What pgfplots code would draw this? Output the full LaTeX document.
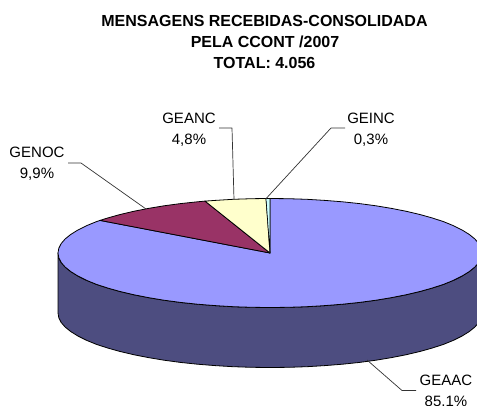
\documentclass[border=0pt]{standalone}
\usepackage{pgfplots}
\pgfplotsset{compat=1.18}
\usepackage{fontspec}
\setmainfont{Liberation Sans}
\definecolor{geaac}{HTML}{9999FF}
\definecolor{geaacside}{HTML}{4D4D80}
\definecolor{genoc}{HTML}{993366}
\definecolor{geanc}{HTML}{FFFFCC}
\definecolor{geinc}{HTML}{CCFFFF}
\definecolor{leader}{HTML}{333333}
\tikzset{
  ttl/.style={anchor=base, font=\fontsize{16}{18}\selectfont\bfseries},
  lbl/.style={anchor=base, font=\fontsize{15}{17}\selectfont},
}
\begin{document}
\begin{tikzpicture}
\useasboundingbox (0,0) rectangle (477pt,405pt);
\begin{axis}[
  scale only axis, width=477pt, height=405pt,
  xmin=0, xmax=477, ymin=0, ymax=405, y dir=reverse,
  hide axis, clip=true,
  every axis plot/.append style={line join=round},
]
% side wall
\addplot[draw=black, line width=0.8pt, fill=geaacside] coordinates {
(58,253)(58.8,257.75)(61.2,262.5)(65.2,267.1)(70.8,271.6)(77.9,276)(86.4,280.25)(96.3,284.3)(107.6,288)(120.1,291.5)(133.7,294.7)(148.4,297.6)(164,300.2)(180.4,302.4)(197.5,304.2)(215.1,305.6)(233.2,306.7)(251.5,307.3)(270,307.5)
(288.5,307.3)(306.8,306.7)(324.9,305.6)(342.5,304.2)(359.6,302.4)(376,300.2)(391.6,297.6)(406.3,294.7)(419.9,291.5)(432.4,288)(443.7,284.3)(453.6,280.25)(462.1,276)(469.2,271.6)(474.8,267.1)(478.8,262.5)(481.2,257.75)(482,253)
(482,313)(481.2,317.75)(478.8,322.5)(474.8,327.1)(469.2,331.6)(462.1,336)(453.6,340.25)(443.7,344.3)(432.4,348)(419.9,351.5)(406.3,354.7)(391.6,357.6)(376,360.2)(359.6,362.4)(342.5,364.2)(324.9,365.6)(306.8,366.7)(288.5,367.3)(270,367.5)
(251.5,367.3)(233.2,366.7)(215.1,365.6)(197.5,364.2)(180.4,362.4)(164,360.2)(148.4,357.6)(133.7,354.7)(120.1,351.5)(107.6,348)(96.3,344.3)(86.4,340.25)(77.9,336)(70.8,331.6)(65.2,327.1)(61.2,322.5)(58.8,317.75)(58,313)
} -- cycle;
% GEAAC top
\addplot[draw=black, line width=0.8pt, fill=geaac] coordinates {
(270,253)(270,198.5)(288.5,198.7)(306.8,199.3)(324.9,200.4)(342.5,201.8)(359.6,203.6)(376,205.8)(391.6,208.4)(406.3,211.3)(419.9,214.5)(432.4,218)(443.7,221.7)(453.6,225.75)(462.1,230)(469.2,234.4)(474.8,238.9)(478.8,243.5)(481.2,248.25)(482,253)
(481.2,257.75)(478.8,262.5)(474.8,267.1)(469.2,271.6)(462.1,276)(453.6,280.25)(443.7,284.3)(432.4,288)(419.9,291.5)(406.3,294.7)(391.6,297.6)(376,300.2)(359.6,302.4)(342.5,304.2)(324.9,305.6)(306.8,306.7)(288.5,307.3)(270,307.5)
(251.5,307.3)(233.2,306.7)(215.1,305.6)(197.5,304.2)(180.4,302.4)(164,300.2)(148.4,297.6)(133.7,294.7)(120.1,291.5)(107.6,288)(96.3,284.3)(86.4,280.25)(77.9,276)(70.8,271.6)(65.2,267.1)(61.2,262.5)(58.8,257.75)(58,253)
(58.8,248.25)(61.2,243.5)(65.2,238.9)(70.8,234.4)(77.9,230)(86.4,225.75)(96.3,221.7)(100,220.4)
} -- cycle;
% GENOC
\addplot[draw=black, line width=0.8pt, fill=genoc] coordinates {
(270,253)(100,220.4)(107.6,218)(120.1,214.5)(133.7,211.3)(148.4,208.4)(164,205.8)(180.4,203.6)(197.5,201.8)(205,201.1)
} -- cycle;
% GEANC
\addplot[draw=black, line width=0.8pt, fill=geanc] coordinates {
(270,253)(205,201.1)(215.1,200.4)(233.2,199.3)(251.5,198.7)(266,198.5)
} -- cycle;
% GEINC
\addplot[draw=black, line width=0.6pt, fill=geinc] coordinates {
(270,253)(266,198.5)(270,198.5)
} -- cycle;
% leaders
\addplot[draw=leader, line width=0.7pt] coordinates {(68,163)(81,163)(146,209)};
\addplot[draw=leader, line width=0.7pt] coordinates {(219,128)(232,128)(234,199.5)};
\addplot[draw=leader, line width=0.7pt] coordinates {(345,128)(331,128)(265.7,199)};
\addplot[draw=leader, line width=0.7pt] coordinates {(367,360)(402,390.5)(416,390.5)};
% text
\node[ttl] at (axis cs:264.5,26) {MENSAGENS RECEBIDAS-CONSOLIDADA};
\node[ttl] at (axis cs:265,47) {PELA CCONT /2007};
\node[ttl] at (axis cs:264.5,68) {TOTAL: 4.056};
\node[lbl] at (axis cs:189,123) {GEANC};
\node[lbl] at (axis cs:189,144) {4,8\%};
\node[lbl] at (axis cs:37,157) {GENOC};
\node[lbl] at (axis cs:37,178) {9,9\%};
\node[lbl] at (axis cs:371,123) {GEINC};
\node[lbl] at (axis cs:371,144) {0,3\%};
\node[lbl] at (axis cs:446,385) {GEAAC};
\node[lbl] at (axis cs:446,406.5) {85,1\%};
\end{axis}
\end{tikzpicture}
\end{document}
